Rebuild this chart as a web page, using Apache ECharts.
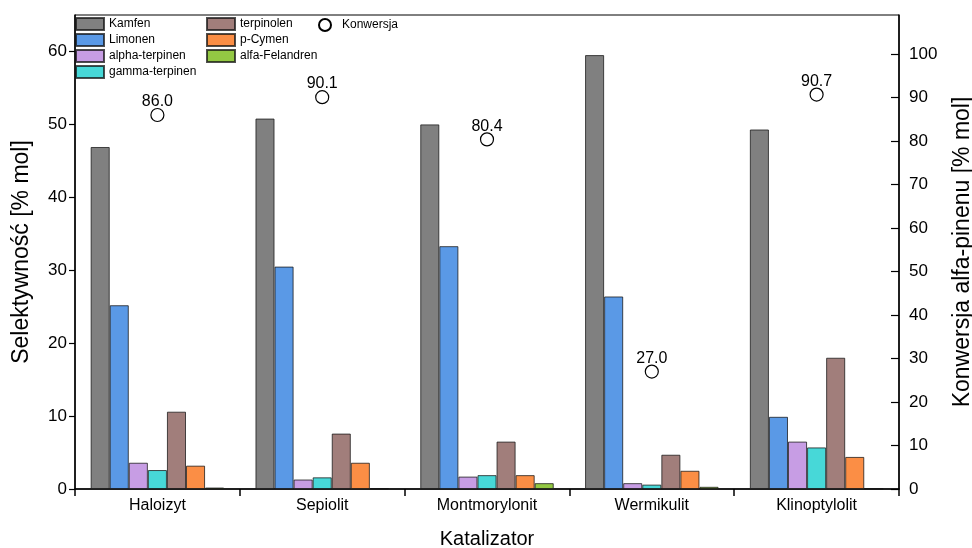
<!DOCTYPE html>
<html>
<head>
<meta charset="utf-8">
<script src="https://cdn.jsdelivr.net/npm/echarts@6/dist/echarts.min.js"></script>
<style>html,body{margin:0;padding:0;background:#fff}#c{width:972px;height:548px}</style>
</head>
<body>
<div id="c"></div>
<script>
const categories = ['Haloizyt', 'Sepiolit', 'Montmorylonit', 'Wermikulit', 'Klinoptylolit'];
const kamfen        = [46.9, 50.8, 50.0, 59.5, 49.3];
const limonen       = [25.2, 30.5, 33.3, 26.4, 9.9];
const alphaTerpinen = [3.6, 1.3, 1.7, 0.8, 6.5];
const gammaTerpinen = [2.6, 1.6, 1.9, 0.6, 5.7];
const terpinolen    = [10.6, 7.6, 6.5, 4.7, 18.0];
const pCymen        = [3.2, 3.6, 1.9, 2.5, 4.4];
const alfaFelandren = [0.2, 0.1, 0.8, 0.3, 0.05];
const konwersja     = [86.0, 90.1, 80.4, 27.0, 90.7];
const leftTicks  = [0, 10, 20, 30, 40, 50, 60];
const rightTicks = [0, 10, 20, 30, 40, 50, 60, 70, 80, 90, 100];

const FONT = 'Liberation Sans, Arial, sans-serif';
const barSeries = [
  ['Kamfen', kamfen, '#808080'],
  ['Limonen', limonen, '#5A99E6'],
  ['alpha-terpinen', alphaTerpinen, '#C79DE4'],
  ['gamma-terpinen', gammaTerpinen, '#47D8D8'],
  ['terpinolen', terpinolen, '#A17E7B'],
  ['p-Cymen', pCymen, '#FB8E45'],
  ['alfa-Felandren', alfaFelandren, '#93C843']
].map(([name, data, color]) => ({
  name, type: 'bar', data, yAxisIndex: 0,
  barGap: '0%', barCategoryGap: '19%',
  itemStyle: { color, borderColor: 'rgba(20,20,20,0.75)', borderWidth: 1 },
  emphasis: { disabled: true },
  animation: false
}));

const legendText = { fontSize: 12, fontFamily: FONT, color: '#000' };
const chart = echarts.init(document.getElementById('c'), null, { renderer: 'canvas' });
chart.setOption({
  animation: false,
  textStyle: { fontFamily: FONT, color: '#000' },
  grid: { left: 75, right: 73, top: 15, bottom: 59, outerBoundsMode: 'none', containLabel: false, show: true, borderColor: '#000', borderWidth: 1, backgroundColor: 'transparent' },
  legend: [
    { data: ['Kamfen', 'Limonen', 'alpha-terpinen', 'gamma-terpinen'], orient: 'vertical', left: 75, top: 17, padding: 0, itemWidth: 28, itemHeight: 12, itemGap: 2, icon: 'rect', textStyle: legendText, selectedMode: false },
    { data: ['terpinolen', 'p-Cymen', 'alfa-Felandren'], orient: 'vertical', left: 206, top: 17, padding: 0, itemWidth: 28, itemHeight: 12, itemGap: 2, icon: 'rect', textStyle: legendText, selectedMode: false },
    { data: ['Konwersja'], orient: 'vertical', left: 318, top: 18, padding: 0, itemWidth: 24, itemHeight: 12, icon: 'circle', textStyle: legendText, selectedMode: false }
  ],
  xAxis: {
    type: 'category', data: categories,
    axisLine: { lineStyle: { color: '#000', width: 1.5 } },
    axisTick: { show: true, length: 7, lineStyle: { color: '#000', width: 1.5 } },
    axisLabel: { fontSize: 16, color: '#000', margin: 9, fontFamily: FONT },
    name: 'Katalizator', nameLocation: 'middle', nameGap: 40,
    nameTextStyle: { fontSize: 20, color: '#000', fontFamily: FONT }
  },
  yAxis: [
    {
      type: 'value', min: 0, max: 65, interval: 10, position: 'left',
      axisLine: { show: true, lineStyle: { color: '#000', width: 1.5 } },
      axisTick: { show: true, length: 6, customValues: leftTicks, lineStyle: { color: '#000', width: 1.2 } },
      axisLabel: { fontSize: 17, color: '#000', margin: 8, customValues: leftTicks, fontFamily: FONT },
      splitLine: { show: false },
      name: 'Selektywność [% mol]', nameLocation: 'middle', nameGap: 42, nameRotate: 90,
      nameTextStyle: { fontSize: 23, color: '#000', fontFamily: FONT }
    },
    {
      type: 'value', min: 0, max: 109, interval: 10, position: 'right',
      axisLine: { show: true, lineStyle: { color: '#000', width: 1.5 } },
      axisTick: { show: true, inside: true, length: 8, customValues: rightTicks, lineStyle: { color: '#000', width: 1.2 } },
      axisLabel: { fontSize: 17, color: '#000', margin: 10, customValues: rightTicks, fontFamily: FONT },
      splitLine: { show: false },
      name: 'Konwersja alfa-pinenu [% mol]', nameLocation: 'middle', nameGap: 52, nameRotate: 90,
      nameTextStyle: { fontSize: 23, color: '#000', fontFamily: FONT }
    }
  ],
  series: barSeries.concat([{
    name: 'Konwersja', type: 'scatter', yAxisIndex: 1, data: konwersja,
    symbol: 'circle', symbolSize: 13,
    itemStyle: { color: '#fff', borderColor: '#000', borderWidth: 1.2, opacity: 1 },
    label: { show: true, position: 'top', distance: -2, fontSize: 16, color: '#000', opacity: 1, fontFamily: FONT, formatter: p => p.value.toFixed(1) },
    emphasis: { disabled: true },
    z: 5
  }])
});
</script>
</body>
</html>
